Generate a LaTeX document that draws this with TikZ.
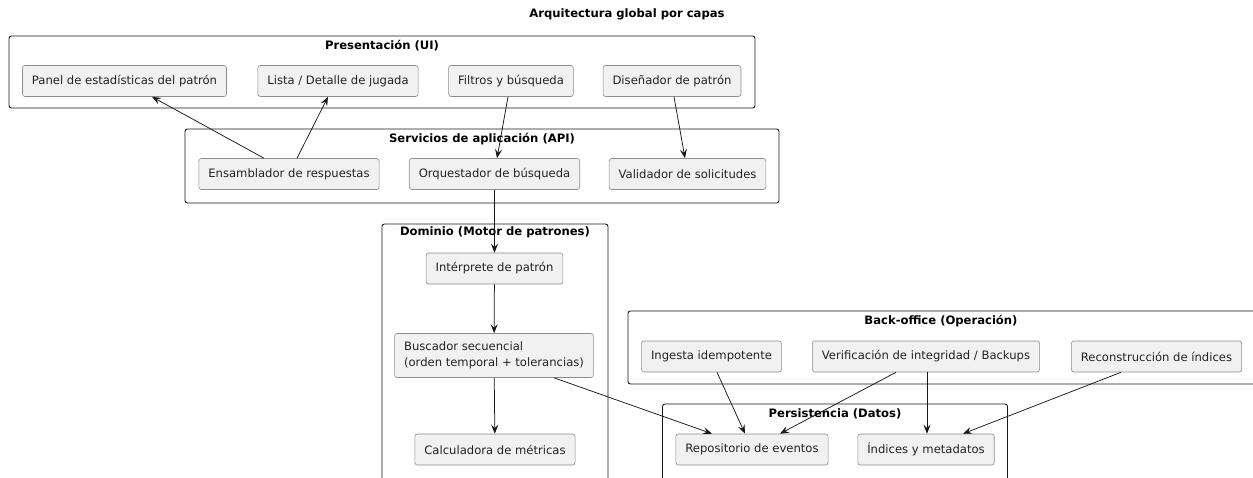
\documentclass[tikz,border=0pt]{standalone}
\usepackage{fontspec}
\setmainfont{DejaVu Sans}
\usetikzlibrary{arrows.meta}
\definecolor{boxfill}{HTML}{F1F1F1}
\definecolor{boxline}{HTML}{8C8C8C}
\definecolor{linecol}{HTML}{181818}
\definecolor{textcol}{HTML}{222222}
\begin{document}
\begin{tikzpicture}[x=1pt,y=-1pt,>={Stealth[length=9pt,width=7pt,inset=3.5pt]},
  font=\fontsize{11.6}{15.5}\selectfont,text=textcol,
  box/.style={draw=boxline,line width=0.6pt,fill=boxfill,rounded corners=2.5pt,
    minimum height=31pt,inner xsep=9.5pt},
  layer/.style={draw=linecol,line width=0.9pt,rounded corners=2.5pt},
  layertitle/.style={font=\fontsize{11.6}{14}\selectfont\bfseries,text=black},
  link/.style={->,draw=linecol,line width=0.75pt}]
  \useasboundingbox (0,0) rectangle (1253,477);
  \node[layertitle] (title) at (627,14) {Arquitectura global por capas};
  \draw[layer] (9,36) rectangle (755,108);
  \node[layertitle] (ui) at (382,46) {Presentación (UI)};
  \draw[layer] (185,129) rectangle (779,203);
  \node[layertitle] (api) at (482,139) {Servicios de aplicación (API)};
  \draw[layer] (382,224) rectangle (608,495);
  \node[layertitle] (dominio) at (495,232) {Dominio (Motor de patrones)};
  \draw[layer] (628,311) rectangle (1262,384);
  \node[layertitle] (backoffice) at (941,321) {Back-office (Operación)};
  \draw[layer] (662.5,404) rectangle (1007.5,495);
  \node[layertitle] (persistencia) at (835,414) {Persistencia (Datos)};
  \node[box] (panel) at (124.5,81) {Panel de estadísticas del patrón};
  \node[box] (lista) at (338,81) {Lista / Detalle de jugada};
  \node[box] (filtros) at (511,81) {Filtros y búsqueda};
  \node[box] (disenador) at (672,81) {Diseñador de patrón};
  \node[box] (ensamblador) at (289,174) {Ensamblador de respuestas};
  \node[box] (orquestador) at (494.5,174) {Orquestador de búsqueda};
  \node[box] (validador) at (687.5,174) {Validador de solicitudes};
  \node[box] (interprete) at (494.5,268.5) {Intérprete de patrón};
  \node[box,minimum height=44pt,align=left] (buscador) at (494,355.5)
    {Buscador secuencial\\(orden temporal + tolerancias)};
  \node[box] (calculadora) at (495,449.5) {Calculadora de métricas};
  \node[box] (ingesta) at (711.5,356.5) {Ingesta idempotente};
  \node[box] (verificacion) at (926,356.5) {Verificación de integridad / Backups};
  \node[box] (reconstruccion) at (1156.5,356.5) {Reconstrucción de índices};
  \node[box] (repositorio) at (752,449.5) {Repositorio de eventos};
  \node[box] (indices) at (926,449.5) {Índices y metadatos};
  \draw[link] ([xshift=-25pt]ensamblador.north) -- ([xshift=27.5pt]panel.south);
  \draw[link] ([xshift=8pt]ensamblador.north) -- ([xshift=-10pt]lista.south);
  \draw[link] ([xshift=-3pt]filtros.south) -- ([xshift=2.5pt]orquestador.north);
  \draw[link] ([xshift=2pt]disenador.south) -- ([xshift=-2.5pt]validador.north);
  \draw[link] (orquestador) -- (interprete);
  \draw[link] (interprete) -- (buscador);
  \draw[link] (buscador) -- (calculadora);
  \draw[link] ([xshift=60pt]buscador.south) -- ([xshift=-40pt]repositorio.north);
  \draw[link] ([xshift=5.5pt]ingesta.south) -- ([xshift=-7pt]repositorio.north);
  \draw[link] ([xshift=-30pt]verificacion.south) -- ([xshift=28pt]repositorio.north);
  \draw[link] ([xshift=1pt]verificacion.south) -- ([xshift=1pt]indices.north);
  \draw[link] ([xshift=-35.5pt]reconstruccion.south) -- ([xshift=37pt]indices.north);
\end{tikzpicture}
\end{document}
